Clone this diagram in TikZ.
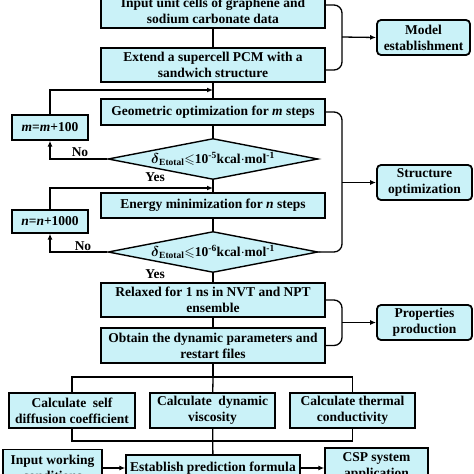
\documentclass[tikz,border=0pt]{standalone}
\usepackage{fontspec}
\setmainfont{Liberation Serif}
\usepackage{amsmath, amssymb}
\usetikzlibrary{arrows.meta,shapes.geometric}
\definecolor{boxfill}{RGB}{202,242,248}
\newcommand{\deltaE}[1]{$\boldsymbol{\delta}$\textsubscript{Etotal}$\leqslant$10\textsuperscript{#1}kcal$\cdot$mol\textsuperscript{-1}}

\begin{document}
\begin{tikzpicture}[x=1pt,y=-1pt,
  font=\fontsize{13.5}{16}\selectfont\bfseries,
  mainbox/.style={draw, fill=boxfill, line width=1.4pt, align=center, inner sep=0pt, minimum width=224pt},
  sidebox/.style={draw, fill=boxfill, line width=1.8pt, rounded corners=4pt, align=center, inner sep=0pt},
  decision/.style={draw, fill=boxfill, line width=1.4pt, diamond, aspect=5, inner sep=0pt, minimum width=210pt, minimum height=41pt},
  link/.style={line width=1.3pt},
  arr/.style={line width=1.3pt, -{Latex[length=6pt,width=5pt]}}]
 \useasboundingbox (0,0) rectangle (474,474);
 \clip (0,0) rectangle (474,474);
%    model establishment
	\node[mainbox, minimum height=34pt] (in1) at (213,11) {Input unit cells of graphene and\\sodium carbonate data};
	\node[mainbox, minimum height=34pt] (ext) at (213,65) {Extend a supercell PCM with a\\sandwich structure};
	\node[sidebox, minimum width=93pt, minimum height=35pt] (model) at (423.5,37.5) {Model\\establishment};
%    structure optimization
	\node[mainbox, minimum height=26pt] (geo) at (213,112) {Geometric optimization for \textit{m} steps};
	\node[decision] (d1) at (213,159) {\deltaE{-5}};
	\node[mainbox, minimum width=76pt, minimum height=25pt] (m) at (50,127.5) {\textit{m}=\textit{m}+100};
	\node[mainbox, minimum height=25pt] (energy) at (213,205.5) {Energy minimization for \textit{n} steps};
	\node[decision] (d2) at (213,252) {\deltaE{-6}};
	\node[mainbox, minimum width=76pt, minimum height=23pt] (n) at (50,221.5) {\textit{n}=\textit{n}+1000};
	\node[sidebox, minimum width=95pt, minimum height=35pt] (struct) at (424.5,182.5) {Structure\\optimization};
	\node (no1) at (80,152) {No};
	\node (yes1) at (155,177) {Yes};
	\node (no2) at (83,246) {No};
	\node (yes2) at (155,274) {Yes};
%    properties production
	\node[mainbox, minimum height=34pt] (relax) at (213,300) {Relaxed for 1 ns in NVT and NPT\\ensemble};
	\node[mainbox, minimum height=35pt] (obtain) at (213,345.5) {Obtain the dynamic parameters and\\restart files};
	\node[sidebox, minimum width=95pt, minimum height=35pt] (prop) at (424.5,322.5) {Properties\\production};
	\node[mainbox, minimum width=126pt, minimum height=35pt] (self) at (72,410.5) {Calculate\ \ self\\diffusion coefficient};
	\node[mainbox, minimum width=125pt, minimum height=35pt] (visc) at (212.5,410.5) {Calculate\ \ dynamic\\viscosity};
	\node[mainbox, minimum width=125pt, minimum height=35pt] (therm) at (352.5,410.5) {Calculate thermal\\conductivity};
%    application
	\node[mainbox, minimum width=99pt, minimum height=36pt] (inwork) at (52.5,467.5) {Input working\\conditions};
	\node[mainbox, minimum width=174pt, minimum height=26pt] (estab) at (213,468) {Establish prediction formula};
	\node[mainbox, minimum width=103pt, minimum height=36pt] (csp) at (376.5,466) {CSP system\\application};
%    joints
	\coordinate (j1) at (213,90);
	\coordinate (j2) at (213,188);
	\coordinate (b1) at (342,37);
	\coordinate (b2) at (342,182.5);
	\coordinate (b3) at (342,322.5);
	\coordinate (t1) at (213,377);
	\coordinate (t2) at (213,441);
%    vertical
 \draw[link] (in1) -- (ext);
 \draw[link] (ext) -- (geo);
 \draw[link] (geo) -- (d1);
 \draw[link] (d1) -- (energy);
 \draw[link] (energy) -- (d2);
 \draw[link] (d2) -- (relax);
 \draw[link] (relax) -- (obtain);
 \draw[link] (obtain) -- (t1);
 \draw[link] (t1) -- (visc);
 \draw[link] (visc) -- (estab);
%    loops
 \draw[arr] (m.north) |- (j1);
 \draw[arr] (d1.west) -| (m.south);
 \draw[arr] (n.north) |- (j2);
 \draw[arr] (d2.west) -| (n.south);
%    braces
 \draw[link, rounded corners=8pt] ([yshift=6pt]in1.east) -| (b1) |- ([yshift=-5pt]ext.east);
 \draw[link, rounded corners=8pt] (geo.east) -| (b2) |- (d2.east);
 \draw[link, rounded corners=8pt] (relax.east) -| (b3) |- (obtain.east);
 \draw[arr] (b1) -- (model.west);
 \draw[arr] (b2) -- (struct.west);
 \draw[arr] (b3) -- (prop.west);
%    calculations
 \draw[link] (self.north) |- (t1) -| (therm.north);
 \draw[link] (self.south) |- (t2) -| (therm.south);
 \draw[arr] (inwork.east |- estab.west) -- (estab.west);
 \draw[arr] (estab.east) -- (csp.west |- estab.east);
\end{tikzpicture}
\end{document}
